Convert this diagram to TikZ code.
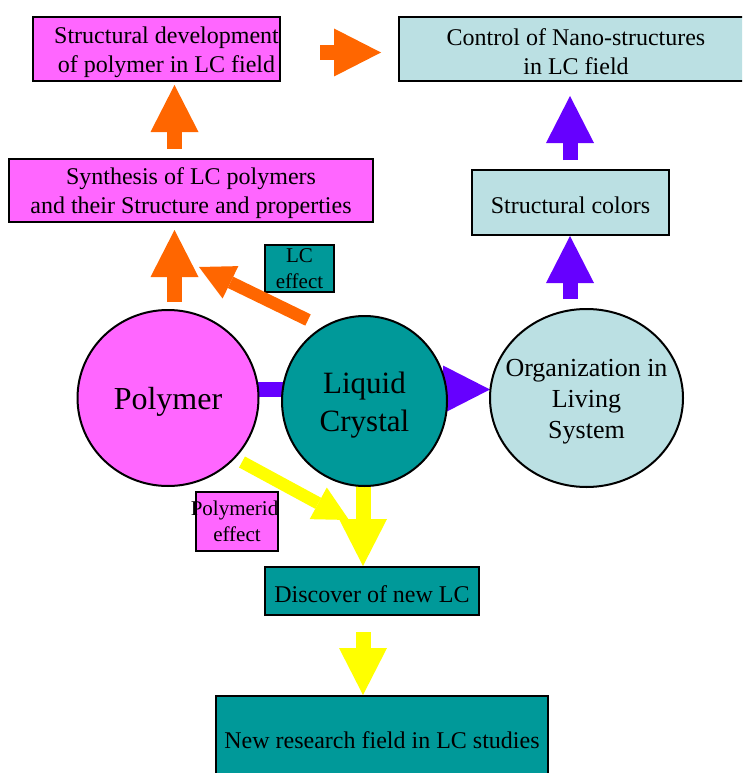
\documentclass[tikz,border=0pt]{standalone}
\usepackage{fontspec}
\setmainfont{Liberation Serif}
\usetikzlibrary{shapes.geometric,arrows.meta}
\definecolor{mag}{HTML}{FF66FF}
\definecolor{lblue}{HTML}{BBE0E3}
\definecolor{tealc}{HTML}{009999}
\definecolor{orng}{HTML}{FF6600}
\definecolor{purp}{HTML}{6600FF}
\definecolor{yell}{HTML}{FFFF00}
\newcommand{\upstrut}{\rule{0pt}{0.93em}}
\begin{document}
\begin{tikzpicture}[x=1pt,y=-1pt,
  box/.style={draw=black,line width=2.5pt,inner sep=0pt,align=center,font=\fontsize{24}{29}\selectfont},
  smallbox/.style={draw=black,line width=2.5pt,inner sep=0pt,align=center,font=\fontsize{21}{26}\selectfont},
  oval/.style={ellipse,draw=black,line width=2pt,inner sep=0pt,align=center},
  barrow/.style={line width=15pt,-{Triangle[length=47pt,width=48pt,line width=0pt]}},
  sarrow/.style={line width=12.5pt,-{Triangle[length=35pt,width=36pt,line width=0pt]}},
]
\useasboundingbox (0,0) rectangle (742,773);
\clip (0,0) rectangle (742,773);

% arrow end points
\coordinate (a1s) at (320,52.5);   \coordinate (a1e) at (381,52.5);
\coordinate (a2s) at (174.5,149);  \coordinate (a2e) at (174.5,85);
\coordinate (a3s) at (174.5,302);  \coordinate (a3e) at (174.5,230);
\coordinate (a4s) at (308,320);    \coordinate (a4e) at (199,267);
\coordinate (a5s) at (255,389.5);  \coordinate (a5e) at (490,389.5);
\coordinate (a6s) at (570,299);    \coordinate (a6e) at (570,236);
\coordinate (a7s) at (570,160);    \coordinate (a7e) at (570,96);
\coordinate (a8s) at (242,462);    \coordinate (a8e) at (349,520);
\coordinate (a9s) at (363,480);    \coordinate (a9e) at (363,566);
\coordinate (a10s) at (363,632);   \coordinate (a10e) at (363,695);

% arrows lying behind the circles
\draw[barrow,purp] (a5s) -- (a5e);
\draw[sarrow,yell] (a8s) -- (a8e);
\draw[barrow,yell] (a9s) -- (a9e);

% circles
\node[oval,fill=mag,minimum width=181pt,minimum height=176pt,font=\fontsize{32}{38}\selectfont] (poly) at (168,398) {\upstrut Polymer};
\node[oval,fill=tealc,minimum width=165pt,minimum height=170pt,font=\fontsize{31}{38}\selectfont] (lc) at (364.5,401) {\upstrut Liquid\\Crystal};
\node[oval,fill=lblue,minimum width=193pt,minimum height=178pt,font=\fontsize{26}{31}\selectfont] (org) at (586.5,398)
  {\upstrut\makebox[0pt]{Organization in}\\\makebox[0pt]{Living}\\\makebox[0pt]{System}};

% boxes
\node[box,fill=mag,minimum width=247pt,minimum height=64pt] (sd) at (156.5,49)
  {\upstrut\hspace*{20pt}Structural development\\\hspace*{20pt}of polymer in LC field};
\node[box,fill=lblue,minimum width=354pt,minimum height=64pt] (cn) at (576,49) {\upstrut Control of Nano-structures\\in LC field};
\node[box,fill=mag,minimum width=364pt,minimum height=63pt] (syn) at (191,190.5) {\upstrut Synthesis of LC polymers\\and their Structure and properties};
\node[box,fill=lblue,minimum width=197pt,minimum height=65pt] (sc) at (570.5,202.5) {\upstrut Structural colors};
\node[smallbox,fill=tealc,minimum width=69pt,minimum height=47pt] (lce) at (299.5,268.5) {LC\\effect};
\node[smallbox,fill=mag,minimum width=82pt,minimum height=59pt] (pe) at (237,521.5) {\makebox[0pt]{\hspace*{-5pt}Polymerid}\\\makebox[0pt]{effect}};
\node[box,fill=tealc,minimum width=214pt,minimum height=48pt] (dn) at (372,591) {\upstrut Discover of new LC};
\node[box,fill=tealc,minimum width=332pt,minimum height=82pt] (nr) at (382,737) {\upstrut New research field in LC studies};

% remaining arrows
\draw[barrow,orng] (a1s) -- (a1e);
\draw[barrow,orng] (a2s) -- (a2e);
\draw[barrow,orng] (a3s) -- (a3e);
\draw[sarrow,orng] (a4s) -- (a4e);
\draw[barrow,purp] (a6s) -- (a6e);
\draw[barrow,purp] (a7s) -- (a7e);
\draw[barrow,yell] (a10s) -- (a10e);
\end{tikzpicture}
\end{document}
